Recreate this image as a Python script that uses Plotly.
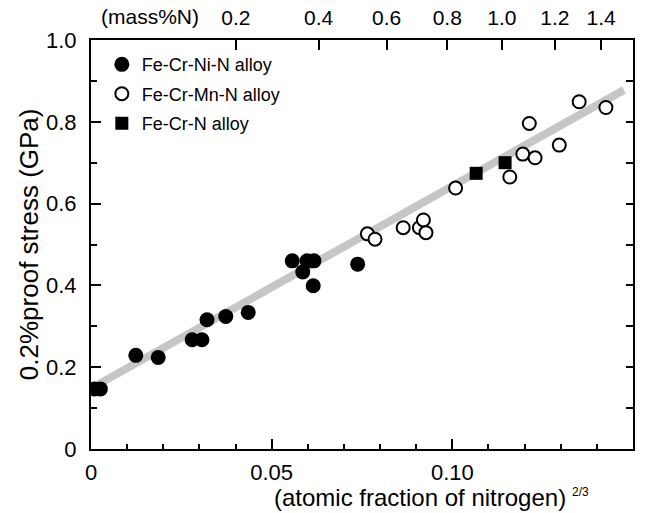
import plotly.graph_objects as go

# ---- data ----
ni_x = [0.0010, 0.0026, 0.0124, 0.0186, 0.0280, 0.0307, 0.0321, 0.0373, 0.0435,
        0.0557, 0.0586, 0.0598, 0.0617, 0.0615, 0.0738]
ni_y = [0.147, 0.147, 0.229, 0.224, 0.267, 0.267, 0.316, 0.324, 0.334,
        0.460, 0.433, 0.460, 0.460, 0.399, 0.452]

mn_x = [0.0765, 0.0786, 0.0864, 0.0909, 0.0920, 0.0927, 0.1009, 0.1159,
        0.1195, 0.1229, 0.1213, 0.1296, 0.1351, 0.1425]
mn_y = [0.526, 0.513, 0.541, 0.541, 0.560, 0.529, 0.638, 0.665,
        0.721, 0.712, 0.796, 0.743, 0.849, 0.835]

crn_x = [0.1066, 0.1146]
crn_y = [0.674, 0.700]

fit_x = [0.002, 0.1475]
fit_y = [0.158, 0.878]

bottom_tickvals = [0, 0.05, 0.10, 0.15]
bottom_ticktext = ["0", "0.05", "0.10", "0.15"]
top_tickvals = [0.0401, 0.0630, 0.0818, 0.0986, 0.1137, 0.1284, 0.1412]
top_ticktext = ["0.2", "0.4", "0.6", "0.8", "1.0", "1.2", "1.4"]
y_tickvals = [0, 0.2, 0.4, 0.6, 0.8, 1.0]
y_ticktext = ["0", "0.2", "0.4", "0.6", "0.8", "1.0"]

FONT = "Liberation Sans, Arial, Helvetica, sans-serif"

fig = go.Figure()

fig.add_trace(go.Scatter(x=fit_x, y=fit_y, mode="lines",
                         line=dict(color="#c6c6c6", width=8),
                         showlegend=False, hoverinfo="skip"))

fig.add_trace(go.Scatter(x=ni_x, y=ni_y, mode="markers", name="Fe-Cr-Ni-N alloy",
                         legendgroup="a",
                         marker=dict(symbol="circle", size=15, color="black")))
fig.add_trace(go.Scatter(x=mn_x, y=mn_y, mode="markers", name="Fe-Cr-Mn-N alloy",
                         legendgroup="b",
                         marker=dict(symbol="circle", size=13, color="white",
                                     line=dict(color="black", width=2))))
fig.add_trace(go.Scatter(x=crn_x, y=crn_y, mode="markers", name="Fe-Cr-N alloy",
                         legendgroup="c",
                         marker=dict(symbol="square", size=13, color="black")))

# invisible trace for secondary axes
fig.add_trace(go.Scatter(x=[None], y=[None], xaxis="x2", yaxis="y2",
                         showlegend=False, hoverinfo="skip"))

fig.update_layout(
    width=650, height=513,
    margin=dict(l=91, r=17, t=40, b=64, autoexpand=False),
    paper_bgcolor="white", plot_bgcolor="white",
    font=dict(family=FONT, size=22, color="black"),
    showlegend=True,
    legend=dict(x=0.02, y=0.985, xanchor="left", yanchor="top",
                font=dict(size=18, family=FONT), bgcolor="rgba(0,0,0,0)",
                tracegroupgap=3, traceorder="grouped"),
    xaxis=dict(range=[0, 0.15], tickvals=bottom_tickvals, ticktext=bottom_ticktext,
               ticks="inside", ticklen=10, tickwidth=1.5, tickcolor="black",
               minor=dict(ticks="inside", dtick=0.01, tick0=0, ticklen=5,
                          tickcolor="black", tickwidth=1.5),
               showline=True, linecolor="black", linewidth=2,
               showgrid=False, zeroline=False, automargin=False,
               ticklabelstandoff=3, tickfont=dict(size=22)),
    xaxis2=dict(range=[0, 0.15], overlaying="x", side="top", anchor="y",
                tickvals=top_tickvals, ticktext=top_ticktext,
                ticks="inside", ticklen=10, tickwidth=1.5, tickcolor="black",
                showline=True, linecolor="black", linewidth=2, automargin=False,
                ticklabelstandoff=5,
                showgrid=False, zeroline=False, tickfont=dict(size=21)),
    yaxis=dict(range=[0, 1.0], tickvals=y_tickvals, ticktext=y_ticktext,
               ticks="inside", ticklen=10, tickwidth=1.5, tickcolor="black",
               minor=dict(ticks="inside", dtick=0.1, tick0=0, ticklen=6,
                          tickcolor="black", tickwidth=1.5),
               showline=True, linecolor="black", linewidth=2, automargin=False,
               showgrid=False, zeroline=False, tickfont=dict(size=22),
               ticklabelstandoff=8),
    yaxis2=dict(range=[0, 1.0], overlaying="y", side="right", anchor="x",
                tickvals=[0.1 * i for i in range(11)], showticklabels=False,
                ticks="inside", ticklen=7, tickwidth=1.5, tickcolor="black",
                showline=True, linecolor="black", linewidth=2, automargin=False,
                showgrid=False, zeroline=False),
    annotations=[
        dict(text="(mass%N)", xref="paper", yref="paper",
             x=0.015, y=1.0, xanchor="left", yanchor="bottom",
             yshift=10, showarrow=False, font=dict(size=21)),
        dict(text="0.2%proof stress (GPa)", xref="paper", yref="paper",
             x=-0.115, y=0.5, xanchor="center", yanchor="middle",
             textangle=-90, showarrow=False, font=dict(size=26)),
        dict(text="(atomic fraction of nitrogen)", xref="paper",
             yref="paper", x=0.607, y=-0.1187, xanchor="center", yanchor="middle",
             showarrow=False, font=dict(size=24)),
        dict(text="2/3", xref="paper", yref="paper",
             x=0.8835, y=-0.1045, xanchor="left", yanchor="middle",
             showarrow=False, font=dict(size=12)),
    ],
)

fig.write_html("out.html",
               config={"displayModeBar": False},
               post_script="document.body.style.margin='0px';"
                           "document.body.style.overflow='hidden';")
